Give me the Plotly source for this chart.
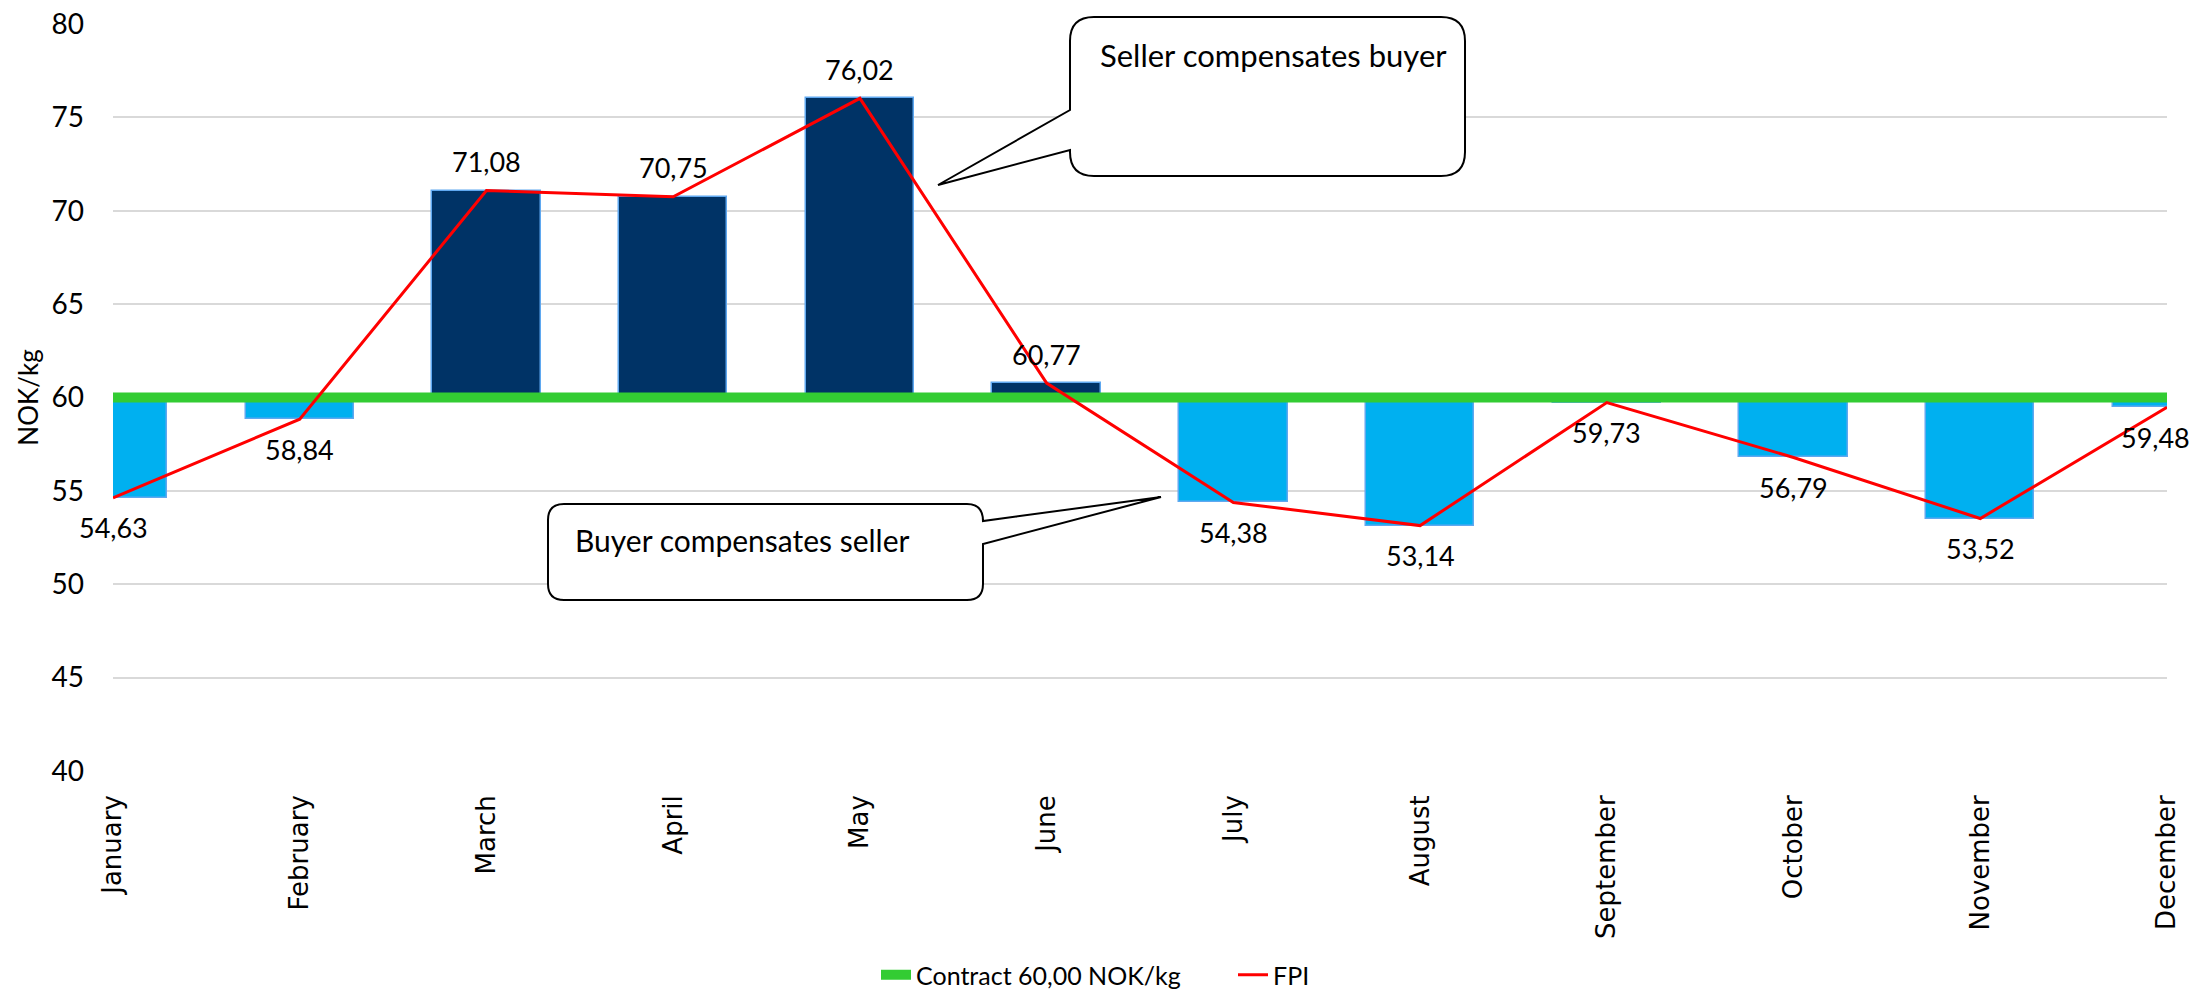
import plotly.graph_objects as go

# ---- data ----
months = ["January", "February", "March", "April", "May", "June",
          "July", "August", "September", "October", "November", "December"]
fpi = [54.63, 58.84, 71.08, 70.75, 76.02, 60.77,
       54.38, 53.14, 59.73, 56.79, 53.52, 59.48]
contract = 60.0
contract_name = "Contract 60,00 NOK/kg"
fpi_name = "FPI"
y_ticks = [40, 45, 50, 55, 60, 65, 70, 75, 80]
callout_seller = "Seller compensates buyer"
callout_buyer = "Buyer compensates seller"

# ---- styling ----
W, H = 2193, 992
ML, MR, MT, MB = 113, 26, 24, 221
PW, PH = W - ML - MR, H - MT - MB
NAVY = "#003366"
LIGHT = "#00B0F0"
EDGE = "#5FA8F0"
GREEN = "#33CC33"
RED = "#FF0000"
LABEL_FONT = "Lato"

def fmt(v):
    return f"{v:.2f}".replace(".", ",")

fig = go.Figure()

# floating bars from the contract level to the FPI value
fig.add_trace(go.Bar(
    x=months,
    y=[v - contract for v in fpi],
    base=contract,
    width=0.58,
    marker=dict(color=[NAVY if v > contract else LIGHT for v in fpi],
                line=dict(color=EDGE, width=1.5)),
    showlegend=False,
    hoverinfo="skip",
))

fig.add_trace(go.Scatter(
    x=months, y=[contract] * len(months), mode="lines",
    line=dict(color=GREEN, width=10), name=contract_name,
))

fig.add_trace(go.Scatter(
    x=months, y=fpi, mode="lines",
    line=dict(color=RED, width=3), name=fpi_name,
))

# data labels
for i, (m, v) in enumerate(zip(months, fpi)):
    fig.add_annotation(
        x=m, y=v, xref="x", yref="y", text=fmt(v), showarrow=False,
        yanchor="middle", xanchor="center",
        yshift=29 if v > contract else -30,
        xshift=-12 if i == len(months) - 1 else 0,
        font=dict(family=LABEL_FONT, size=27, color="black"),
    )

# ---- callouts (pixel geometry -> paper coords) ----
def px(x):
    return (x - ML) / PW

def py(y):
    return 1 - (y - MT) / PH

def P(x, y):
    return f"{px(x):.5f},{py(y):.5f}"

def seller_path(l, t, r, b, rad, base1, base2, tip):
    return (f"M{P(l + rad, t)} L{P(r - rad, t)} Q{P(r, t)} {P(r, t + rad)} "
            f"L{P(r, b - rad)} Q{P(r, b)} {P(r - rad, b)} L{P(l + rad, b)} "
            f"Q{P(l, b)} {P(l, b - rad)} L{P(l, base2)} L{P(*tip)} L{P(l, base1)} "
            f"L{P(l, t + rad)} Q{P(l, t)} {P(l + rad, t)} Z")

def buyer_path(l, t, r, b, rad, base1, base2, tip):
    return (f"M{P(l + rad, t)} L{P(r - rad, t)} Q{P(r, t)} {P(r, base1)} "
            f"L{P(*tip)} L{P(r, base2)} L{P(r, b - rad)} Q{P(r, b)} {P(r - rad, b)} "
            f"L{P(l + rad, b)} Q{P(l, b)} {P(l, b - rad)} L{P(l, t + rad)} "
            f"Q{P(l, t)} {P(l + rad, t)} Z")

fig.add_shape(type="path", xref="paper", yref="paper", layer="above",
              path=seller_path(1070, 17, 1465, 176, 24, 110, 150, (938, 185)),
              line=dict(color="black", width=2), fillcolor="white")
fig.add_shape(type="path", xref="paper", yref="paper", layer="above",
              path=buyer_path(548, 504, 983, 600, 16, 521, 544, (1161, 497)),
              line=dict(color="black", width=2), fillcolor="white")

fig.add_annotation(x=px(1098), y=py(55), xref="paper", yref="paper",
                   text=callout_seller, showarrow=False, xanchor="left", yanchor="middle",
                   font=dict(family=LABEL_FONT, size=31, color="black"))
fig.add_annotation(x=px(573), y=py(540), xref="paper", yref="paper",
                   text=callout_buyer, showarrow=False, xanchor="left", yanchor="middle",
                   font=dict(family=LABEL_FONT, size=30, color="black"))

fig.update_layout(
    width=W, height=H,
    margin=dict(l=ML, r=MR, t=MT, b=MB, autoexpand=False),
    paper_bgcolor="white", plot_bgcolor="white",
    bargap=0,
    showlegend=True,
    legend=dict(orientation="h", xref="paper", yref="paper",
                x=px(876), xanchor="left", y=py(975), yanchor="middle",
                entrywidth=312, entrywidthmode="pixels",
                font=dict(family=LABEL_FONT, size=25, color="black"),
                bgcolor="rgba(0,0,0,0)"),
    xaxis=dict(type="category", range=[0, len(months) - 1], automargin=False,
               tickangle=-90, showgrid=False, zeroline=False, showline=False,
               ticks="", ticklabelstandoff=18,
               tickfont=dict(family="DejaVu Sans", size=26, color="black")),
    yaxis=dict(range=[40, 80], tickvals=y_ticks, showgrid=True, automargin=False,
               gridcolor="#D9D9D9", gridwidth=2, zeroline=False, showline=False,
               ticks="", ticklabelstandoff=28,
               tickfont=dict(family=LABEL_FONT, size=28, color="black"),
               title=dict(text="NOK/kg", standoff=5,
                          font=dict(family=LABEL_FONT, size=26, color="black"))),
)

fig.write_html("out.html", config={"displayModeBar": False},
               post_script="document.body.style.margin='0';")
